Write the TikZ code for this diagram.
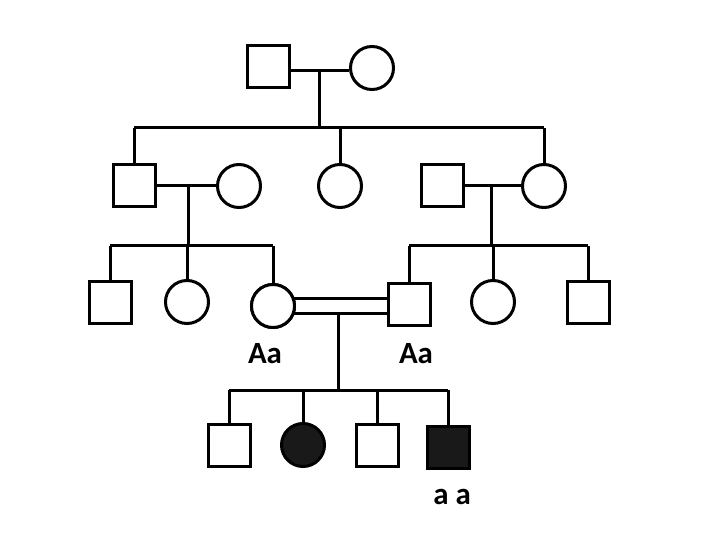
\documentclass[tikz,border=0pt]{standalone}
\usepackage{fontspec}
\setmainfont{Carlito}
\begin{document}
\begin{tikzpicture}[x=1bp,y=-1bp,
  ln/.style={line width=3bp},
  sq/.style={draw,line width=3bp,minimum size=42bp,inner sep=0pt,fill=white},
  ci/.style={draw,circle,line width=3bp,minimum size=43bp,inner sep=0pt,fill=white},
  aff/.style={fill=black!90},
  lab/.style={font=\bfseries\fontsize{31}{31}\selectfont,inner sep=0pt}]
\useasboundingbox (0,0) rectangle (720,540);
% generation 1
\node[sq] (g1m) at (268,67) {};
\node[ci] (g1f) at (372,68) {};
\coordinate (j1) at (319,71);
\coordinate (s1) at (319,128);
\coordinate (s1l) at (134,128);
\coordinate (s1r) at (544,128);
% generation 2
\node[sq] (g2a) at (134,186) {};
\node[ci] (g2b) at (239,186) {};
\node[ci] (g2c) at (340,186) {};
\node[sq] (g2d) at (442,186) {};
\node[ci] (g2e) at (544,186) {};
\coordinate (s1c) at (340,128);
\coordinate (j2l) at (188,186);
\coordinate (j2r) at (491,186);
% generation 3
\node[sq] (g3a) at (110,302) {};
\node[ci] (g3b) at (187,302) {};
\node[ci] (g3c) at (273,306) {};
\node[sq] (g3d) at (409,304) {};
\node[ci] (g3e) at (493,302) {};
\node[sq] (g3f) at (588,302) {};
\coordinate (s2l) at (110,246);
\coordinate (s2lc) at (188,246);
\coordinate (s2lr) at (273,246);
\coordinate (s2rl) at (409,246);
\coordinate (s2rc) at (491,246);
\coordinate (s2r) at (588,246);
\coordinate (d1) at (0,298);
\coordinate (d2) at (0,313);
% generation 4
\node[sq] (g4a) at (229,445) {};
\node[ci,aff] (g4b) at (303,445) {};
\node[sq] (g4c) at (377,445) {};
\node[sq,aff] (g4d) at (448,447) {};
\coordinate (s3l) at (229,390);
\coordinate (s3c) at (338,390);
\coordinate (s3r) at (448,390);
\coordinate (j3) at (338,313);
% connectors gen 1
\draw[ln] (g1m.east |- j1) -- (g1f.west |- j1);
\draw[ln] (j1) -- (s1);
\draw[ln] (s1l) -- (s1r);
\draw[ln] (s1l) -- (g2a.north);
\draw[ln] (s1c) -- (g2c.north);
\draw[ln] (s1r) -- (g2e.north);
% connectors gen 2
\draw[ln] (g2a.east) -- (g2b.west);
\draw[ln] (g2d.east) -- (g2e.west);
\draw[ln] (j2l) -- (s2lc);
\draw[ln] (j2r) -- (s2rc);
\draw[ln] (s2l) -- (s2lr);
\draw[ln] (s2rl) -- (s2r);
\draw[ln] (s2l) -- (g3a.north);
\draw[ln] (s2lc -| g3b) -- (g3b.north);
\draw[ln] (s2lr) -- (g3c.north);
\draw[ln] (s2rl) -- (g3d.north);
\draw[ln] (s2rc -| g3e) -- (g3e.north);
\draw[ln] (s2r) -- (g3f.north);
% consanguineous marriage (double line)
\draw[ln] (g3c |- d1) -- (g3d.west |- d1);
\draw[ln] (g3c |- d2) -- (g3d.west |- d2);
\draw[ln] (j3) -- (s3c);
\draw[ln] (s3l) -- (s3r);
\draw[ln] (s3l) -- (g4a.north);
\draw[ln] (s3l -| g4b) -- (g4b.north);
\draw[ln] (s3l -| g4c) -- (g4c.north);
\draw[ln] (s3r) -- (g4d.north);
% redraw partner circle on top of the double line
\node[ci] at (g3c) {};
% labels
\node[lab] (la) at (265,354) {Aa};
\node[lab] (lb) at (416,354) {Aa};
\node[lab] (lc) at (452,497) {a a};
\end{tikzpicture}
\end{document}
